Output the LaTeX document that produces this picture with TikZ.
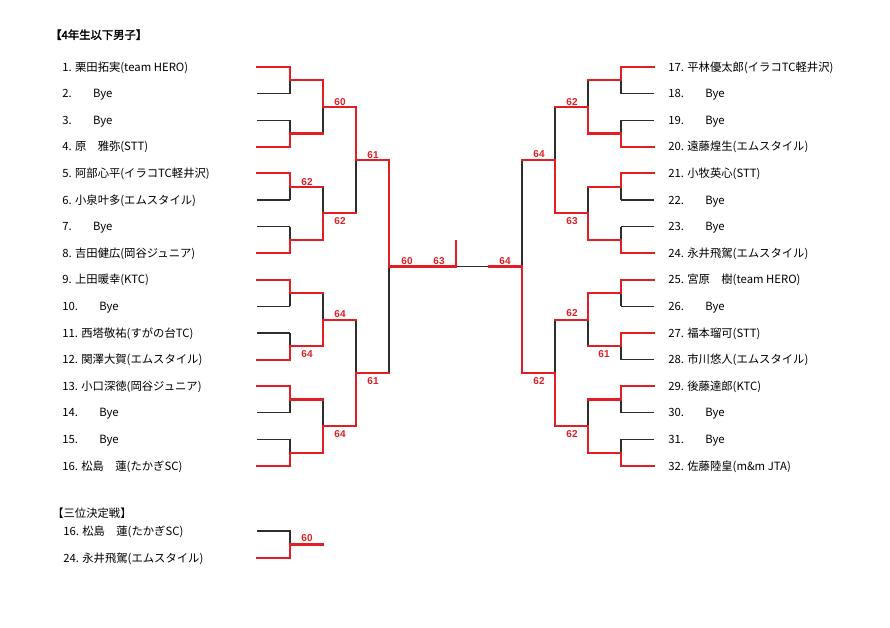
\documentclass[tikz,border=0pt]{standalone}
\usepackage{fontspec}
\setmainfont{Noto Sans CJK JP}
\newfontfamily\labfont{Liberation Sans}
\newfontfamily\hdfont[FakeBold=2]{Noto Sans CJK JP}
\definecolor{bred}{RGB}{226,30,36}
\definecolor{bline}{RGB}{45,45,45}
\newcommand\byeentry[1]{#1.\hspace{16pt}Bye}
\begin{document}
\begin{tikzpicture}[x=0.75pt,y=-0.75pt,
  base/.style={draw=bline,line width=0.8pt},
  win/.style={draw=bred,line width=1.6pt,line cap=rect,line join=miter},
  entry/.style={anchor=west,inner sep=0pt,font=\fontsize{8.5pt}{10pt}\selectfont,text height=7.5pt,text depth=1.5pt},
  score/.style={inner sep=0pt,text=bred,font=\labfont\bfseries\fontsize{7.5pt}{9pt}\selectfont},
  heading/.style={anchor=west,inner sep=0pt,font=\fontsize{8.5pt}{10pt}\selectfont,text height=7.5pt,text depth=1.5pt}]
\useasboundingbox (0,0) rectangle (890,628);
% coordinates of bracket lines
\foreach \l/\n in {0/16,1/8,2/4,3/2}{
  \foreach \j in {1,...,\n}{
    \pgfmathsetmacro\yy{67+26.6*(2^\l*(\j-1)+(2^\l-1)/2)}
    \pgfmathsetmacro\xa{257+33*\l}
    \pgfmathsetmacro\xb{290+33*\l}
    \pgfmathsetmacro\xc{654-33*\l}
    \pgfmathsetmacro\xd{621-33*\l}
    \coordinate (L\l-\j-a) at (\xa,\yy);
    \coordinate (L\l-\j-b) at (\xb,\yy);
    \coordinate (R\l-\j-a) at (\xc,\yy);
    \coordinate (R\l-\j-b) at (\xd,\yy);
  }
}
\coordinate (CL) at (389,266.5);
\coordinate (CM) at (456,266.5);
\coordinate (ST) at (456,241);
\coordinate (CRm) at (489,266.5);
\coordinate (CR) at (522,266.5);
% black base lines
\foreach \l/\n in {0/16,1/8,2/4,3/2}{
  \foreach \j in {1,...,\n}{
    \draw[base] (L\l-\j-a)--(L\l-\j-b);
    \draw[base] (R\l-\j-a)--(R\l-\j-b);
  }
}
\foreach \l/\n in {0/8,1/4,2/2,3/1}{
  \foreach \k in {1,...,\n}{
    \pgfmathtruncatemacro\ja{2*\k-1}
    \pgfmathtruncatemacro\jb{2*\k}
    \draw[base] (L\l-\ja-b)--(L\l-\jb-b);
    \draw[base] (R\l-\ja-b)--(R\l-\jb-b);
  }
}
\draw[base] (CL)--(CR);
% red winner paths, left
\draw[win] (L0-1-a)--(L0-1-b)--(L1-1-a)--(L1-1-b)--(L2-1-a)--(L2-1-b)--(L3-1-a)--(L3-1-b)--(CL)--(CM)--(ST);
\draw[win] (L0-4-a)--(L0-4-b)--(L1-2-a)--(L1-2-b);
\draw[win] (L0-5-a)--(L0-5-b)--(L1-3-a)--(L1-3-b);
\draw[win] (L0-8-a)--(L0-8-b)--(L1-4-a)--(L1-4-b)--(L2-2-a)--(L2-2-b);
\draw[win] (L0-9-a)--(L0-9-b)--(L1-5-a)--(L1-5-b);
\draw[win] (L0-12-a)--(L0-12-b)--(L1-6-a)--(L1-6-b)--(L2-3-a)--(L2-3-b);
\draw[win] (L0-13-a)--(L0-13-b)--(L1-7-a)--(L1-7-b);
\draw[win] (L0-16-a)--(L0-16-b)--(L1-8-a)--(L1-8-b)--(L2-4-a)--(L2-4-b)--(L3-2-a)--(L3-2-b);
% red winner paths, right
\draw[win] (R0-1-a)--(R0-1-b)--(R1-1-a)--(R1-1-b);
\draw[win] (R0-4-a)--(R0-4-b)--(R1-2-a)--(R1-2-b)--(R2-1-a)--(R2-1-b);
\draw[win] (R0-5-a)--(R0-5-b)--(R1-3-a)--(R1-3-b);
\draw[win] (R0-8-a)--(R0-8-b)--(R1-4-a)--(R1-4-b)--(R2-2-a)--(R2-2-b)--(R3-1-a)--(R3-1-b);
\draw[win] (R0-9-a)--(R0-9-b)--(R1-5-a)--(R1-5-b)--(R2-3-a)--(R2-3-b);
\draw[win] (R0-11-a)--(R0-11-b)--(R1-6-a)--(R1-6-b);
\draw[win] (R0-13-a)--(R0-13-b)--(R1-7-a)--(R1-7-b);
\draw[win] (R0-16-a)--(R0-16-b)--(R1-8-a)--(R1-8-b)--(R2-4-a)--(R2-4-b)--(R3-2-a)--(R3-2-b)--(CR)--(CRm);
% headings
\node[heading,font=\hdfont\fontsize{8.5pt}{10pt}\selectfont] (h1) at (50,35) {【4年生以下男子】};
\node[heading] (h2) at (52,513) {【三位決定戦】};
% left entries
\node[entry] (n1) at (62,67) {1. 栗田拓実(team HERO)};
\node[entry] (n2) at (62,93.6) {\byeentry{2}};
\node[entry] (n3) at (62,120.2) {\byeentry{3}};
\node[entry] (n4) at (62,146.8) {4. 原　雅弥(STT)};
\node[entry] (n5) at (62,173.4) {5. 阿部心平(イラコTC軽井沢)};
\node[entry] (n6) at (62,200) {6. 小泉叶多(エムスタイル)};
\node[entry] (n7) at (62,226.6) {\byeentry{7}};
\node[entry] (n8) at (62,253.2) {8. 吉田健広(岡谷ジュニア)};
\node[entry] (n9) at (62,279.8) {9. 上田暖幸(KTC)};
\node[entry] (n10) at (62,306.4) {\byeentry{10}};
\node[entry] (n11) at (62,333) {11. 西塔敬祐(すがの台TC)};
\node[entry] (n12) at (62,359.6) {12. 関澤大賀(エムスタイル)};
\node[entry] (n13) at (62,386.2) {13. 小口深徳(岡谷ジュニア)};
\node[entry] (n14) at (62,412.8) {\byeentry{14}};
\node[entry] (n15) at (62,439.4) {\byeentry{15}};
\node[entry] (n16) at (62,466) {16. 松島　蓮(たかぎSC)};
% right entries
\node[entry] (n17) at (668,67) {17. 平林優太郎(イラコTC軽井沢)};
\node[entry] (n18) at (668,93.6) {\byeentry{18}};
\node[entry] (n19) at (668,120.2) {\byeentry{19}};
\node[entry] (n20) at (668,146.8) {20. 遠藤煌生(エムスタイル)};
\node[entry] (n21) at (668,173.4) {21. 小牧英心(STT)};
\node[entry] (n22) at (668,200) {\byeentry{22}};
\node[entry] (n23) at (668,226.6) {\byeentry{23}};
\node[entry] (n24) at (668,253.2) {24. 永井飛駕(エムスタイル)};
\node[entry] (n25) at (668,279.8) {25. 宮原　樹(team HERO)};
\node[entry] (n26) at (668,306.4) {\byeentry{26}};
\node[entry] (n27) at (668,333) {27. 福本瑠可(STT)};
\node[entry] (n28) at (668,359.6) {28. 市川悠人(エムスタイル)};
\node[entry] (n29) at (668,386.2) {29. 後藤達郎(KTC)};
\node[entry] (n30) at (668,412.8) {\byeentry{30}};
\node[entry] (n31) at (668,439.4) {\byeentry{31}};
\node[entry] (n32) at (668,466) {32. 佐藤陸皇(m\&m JTA)};
% scores left
\node[score] (s1) at (307,182) {62};
\node[score] (s2) at (307,354) {64};
\node[score] (s3) at (340,102) {60};
\node[score] (s4) at (340,221) {62};
\node[score] (s5) at (340,314) {64};
\node[score] (s6) at (340,434) {64};
\node[score] (s7) at (373,155) {61};
\node[score] (s8) at (373,381) {61};
% centre
\node[score] (s9) at (407,261) {60};
\node[score] (s10) at (439,261) {63};
\node[score] (s11) at (505,261) {64};
% scores right
\node[score] (s12) at (539,154) {64};
\node[score] (s13) at (572,102) {62};
\node[score] (s14) at (572,221) {63};
\node[score] (s15) at (572,313) {62};
\node[score] (s16) at (604,354) {61};
\node[score] (s17) at (539,381) {62};
\node[score] (s18) at (572,434) {62};
% third place match
\coordinate (T1a) at (257,531);
\coordinate (T1b) at (290,531);
\coordinate (T2a) at (257,558);
\coordinate (T2b) at (290,558);
\coordinate (Tm) at (290,544.5);
\coordinate (To) at (323,544.5);
\draw[base] (T1a)--(T1b)--(T2b);
\draw[win] (T2a)--(T2b)--(Tm)--(To);
\node[entry] (t1) at (63,531) {16. 松島　蓮(たかぎSC)};
\node[entry] (t2) at (63,558) {24. 永井飛駕(エムスタイル)};
\node[score] (s19) at (307,538) {60};
\end{tikzpicture}
\end{document}
